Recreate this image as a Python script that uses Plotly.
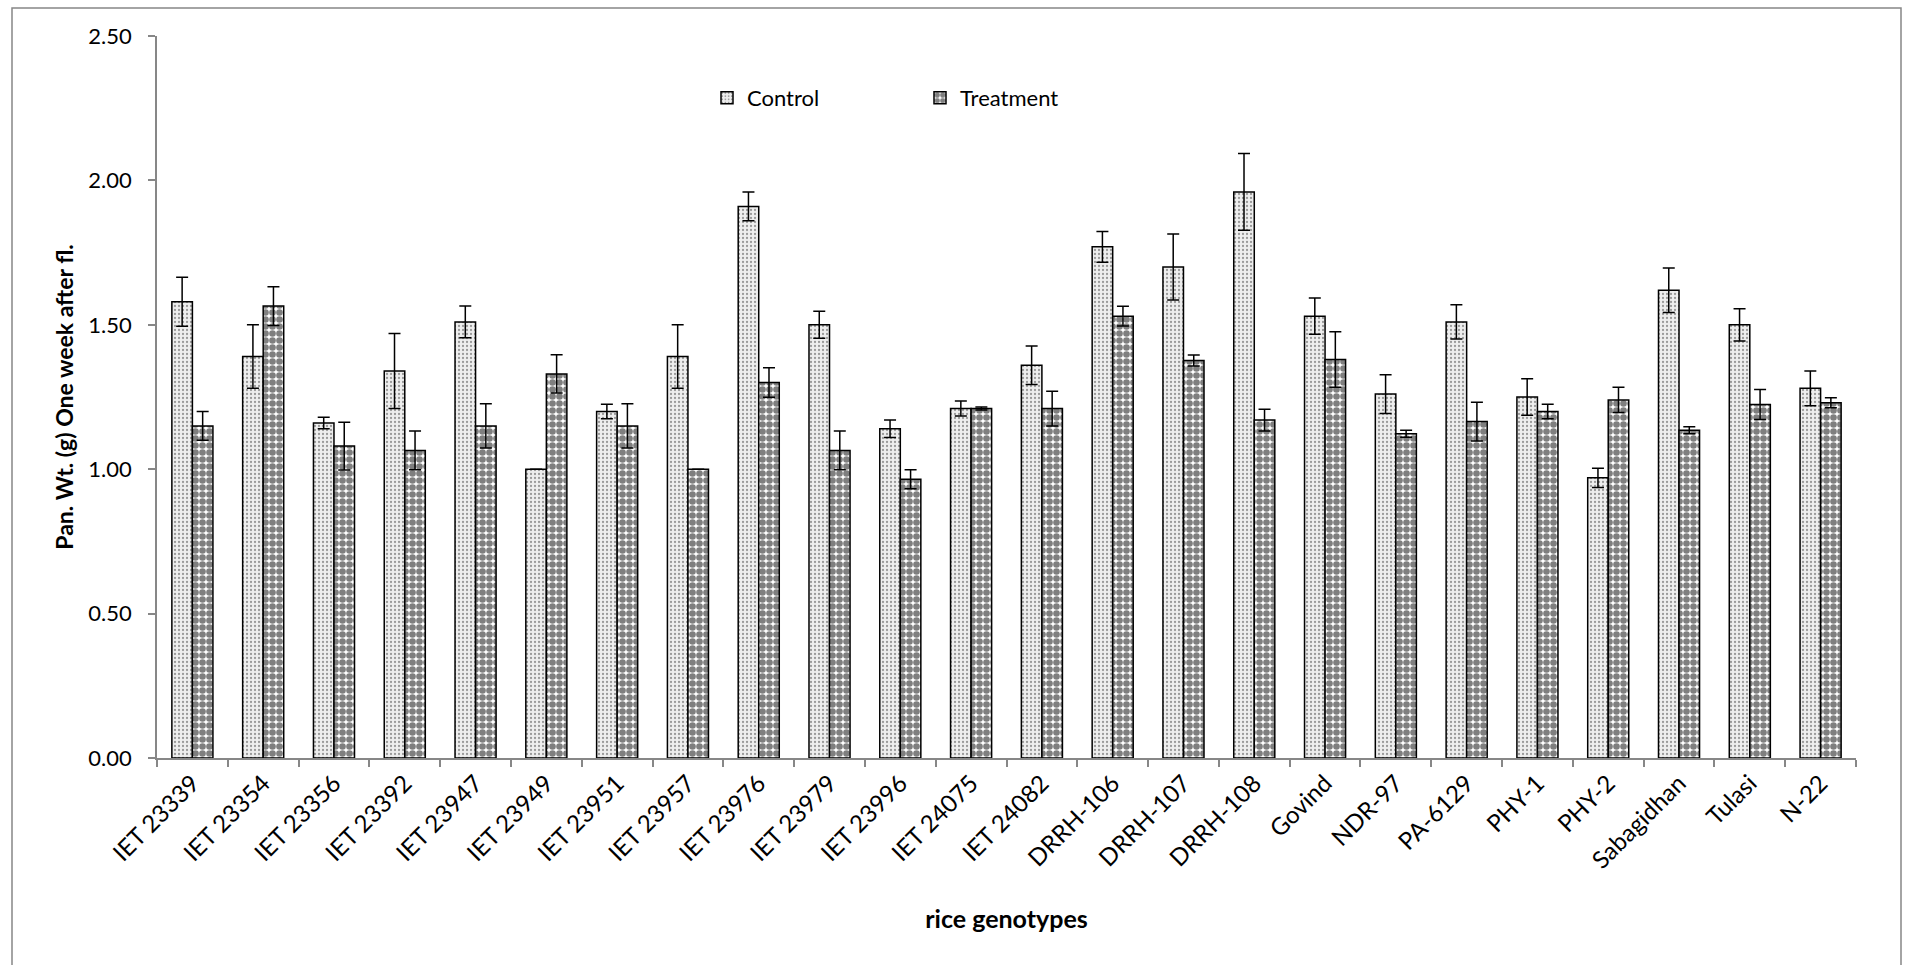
import plotly.graph_objects as go

categories = ["IET 23339", "IET 23354", "IET 23356", "IET 23392", "IET 23947", "IET 23949",
              "IET 23951", "IET 23957", "IET 23976", "IET 23979", "IET 23996", "IET 24075",
              "IET 24082", "DRRH-106", "DRRH-107", "DRRH-108", "Govind", "NDR-97", "PA-6129",
              "PHY-1", "PHY-2", "Sabagidhan", "Tulasi", "N-22"]

control = [1.58, 1.39, 1.16, 1.34, 1.51, 1.00, 1.20, 1.39, 1.91, 1.50, 1.14, 1.21,
           1.36, 1.77, 1.70, 1.96, 1.53, 1.26, 1.51, 1.25, 0.97, 1.62, 1.50, 1.28]
control_err = [0.085, 0.11, 0.02, 0.13, 0.055, 0.0, 0.025, 0.11, 0.05, 0.047, 0.03, 0.026,
               0.067, 0.053, 0.114, 0.133, 0.063, 0.067, 0.059, 0.063, 0.033, 0.077, 0.056, 0.06]

treatment = [1.15, 1.565, 1.08, 1.065, 1.15, 1.33, 1.15, 1.00, 1.30, 1.065, 0.965, 1.21,
             1.21, 1.53, 1.376, 1.17, 1.38, 1.123, 1.165, 1.20, 1.24, 1.135, 1.224, 1.23]
treatment_err = [0.05, 0.067, 0.083, 0.067, 0.077, 0.066, 0.077, 0.0, 0.051, 0.067, 0.033, 0.005,
                 0.06, 0.034, 0.019, 0.038, 0.096, 0.012, 0.067, 0.025, 0.044, 0.012, 0.052, 0.017]

y_ticks = [0, 0.5, 1.0, 1.5, 2.0, 2.5]

FONT = "Lato, 'Open Sans', sans-serif"
AXIS_GRAY = "#878787"

fig = go.Figure()
fig.add_trace(go.Bar(
    name="Control", x=categories, y=control,
    marker=dict(color="#ececec", line=dict(color="black", width=1.5),
                pattern=dict(shape=".", fgcolor="#444444", bgcolor="#eeeeee",
                             size=4, solidity=0.25)),
    error_y=dict(type="data", array=control_err, visible=True,
                 color="black", thickness=1.5, width=6),
))
fig.add_trace(go.Bar(
    name="Treatment", x=categories, y=treatment,
    marker=dict(color="white", line=dict(color="black", width=1.5),
                pattern=dict(shape=".", fgcolor="black", bgcolor="white",
                             size=7, solidity=0.7)),
    error_y=dict(type="data", array=treatment_err, visible=True,
                 color="black", thickness=1.5, width=6),
))

W, H = 1909, 965
L, R, T, B = 157, 53, 36, 207
pw, ph = W - L - R, H - T - B

def px_x(x):
    return (x - L) / pw

def px_y(y):
    return (H - B - y) / ph

fig.update_layout(
    width=W, height=H,
    margin=dict(l=L, r=R, t=T, b=B, autoexpand=False),
    paper_bgcolor="white", plot_bgcolor="white",
    font=dict(family=FONT, size=22, color="black"),
    barmode="group", bargap=0.42, bargroupgap=0.0,
    showlegend=True,
    legend=dict(orientation="h", x=px_x(707), xanchor="left",
                y=px_y(98), yanchor="middle",
                entrywidth=168, entrywidthmode="pixels",
                font=dict(family=FONT, size=22, color="black"),
                bgcolor="rgba(0,0,0,0)", itemclick=False),
    xaxis=dict(
        type="category", showgrid=False, showline=True, linecolor=AXIS_GRAY, linewidth=1.5,
        ticks="outside", tickson="boundaries", ticklen=7, tickcolor=AXIS_GRAY, tickwidth=1.5,
        tickangle=-45, tickfont=dict(family=FONT, size=24, color="black"),
        title=dict(text="<b>rice genotypes</b>", font=dict(family=FONT, size=25, color="black"),
                   standoff=38),
    ),
    yaxis=dict(
        range=[0, 2.5], tickvals=y_ticks, tickformat=".2f", showgrid=False, zeroline=False,
        showline=True, linecolor=AXIS_GRAY, linewidth=1.5,
        ticks="outside", ticklen=7, tickcolor=AXIS_GRAY, tickwidth=1.5,
        ticklabelstandoff=12,
        tickfont=dict(family=FONT, size=22, color="black"),
        title=dict(text="<b>Pan. Wt. (g) One week after fl.</b>",
                   font=dict(family=FONT, size=23, color="black"), standoff=8),
    ),
    shapes=[dict(type="rect", xref="paper", yref="paper",
                 x0=px_x(12), x1=px_x(1901), y0=px_y(975), y1=px_y(8),
                 line=dict(color=AXIS_GRAY, width=1.5), fillcolor="rgba(0,0,0,0)",
                 layer="below")],
)

fig.write_html("out.html")
